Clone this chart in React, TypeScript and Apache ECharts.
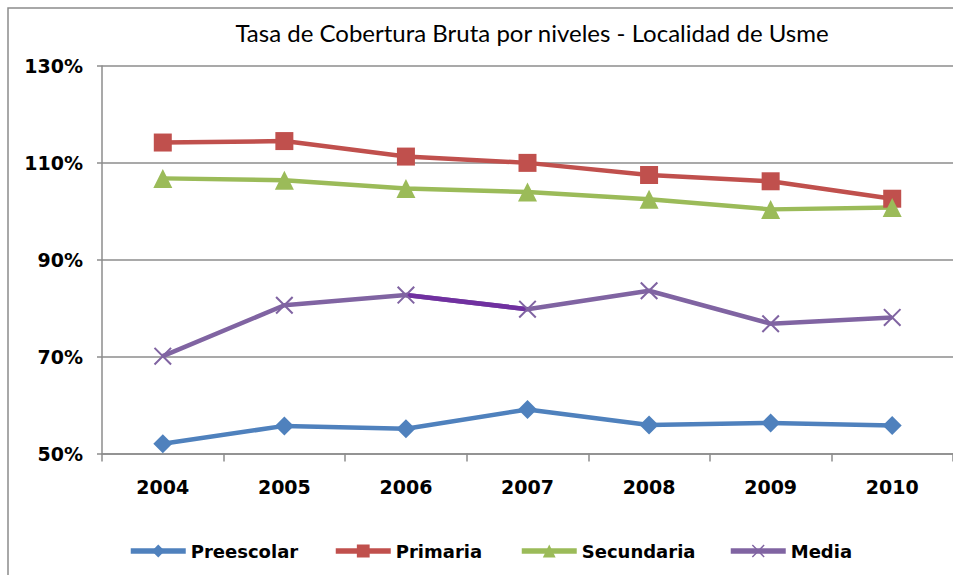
import React, { useEffect, useRef } from "react";
import * as echarts from "echarts";

const years = ["2004", "2005", "2006", "2007", "2008", "2009", "2010"];
const preescolar = [52.0, 55.7, 55.1, 59.1, 55.9, 56.3, 55.8];
const primaria = [114.2, 114.5, 111.3, 110.0, 107.5, 106.2, 102.6];
const secundaria = [106.8, 106.4, 104.7, 104.0, 102.5, 100.4, 100.8];
const media = [70.1, 80.6, 82.7, 79.8, 83.6, 76.8, 78.1];
const yTicks = { min: 50, max: 130, interval: 20 };
const titleText = "Tasa de Cobertura Bruta por niveles - Localidad de Usme";

const crossPath =
  "path://M0,0.8 L0.8,0 L10,9.2 L9.2,10 Z M9.2,0 L10,0.8 L0.8,10 L0,9.2 Z";

export default function App() {
  const ref = useRef<HTMLDivElement>(null);
  useEffect(() => {
    if (!ref.current) return;
    const chart = echarts.init(ref.current, null, { renderer: "svg" });
    const labelFont = {
      fontFamily: "DejaVu Sans",
      fontWeight: "bold" as const,
      fontSize: 19,
      color: "#000",
    };
    const mediaDark = media.map((v, i) => (i === 2 || i === 3 ? v : null));
    const legendBase = {
      top: 542,
      padding: 0,
      itemWidth: 55,
      itemHeight: 16,
      lineStyle: { width: 5.5 },
      textStyle: { ...labelFont, fontSize: 18 },
    };
    chart.setOption({
      animation: false,
      backgroundColor: "#fff",
      title: {
        text: titleText,
        left: 527,
        textAlign: "center",
        top: 15,
        textStyle: {
          fontFamily: "Lato",
          fontWeight: "normal",
          fontSize: 24,
          color: "#000",
        },
      },
      graphic: [
        {
          type: "rect",
          shape: { x: 8, y: 8, width: 1000, height: 700 },
          style: { fill: "none", stroke: "#8c8c8c", lineWidth: 1.5 },
          silent: true,
        },
      ],
      legend: [
        { ...legendBase, left: 128, data: ["Preescolar"] },
        { ...legendBase, left: 333, data: ["Primaria"] },
        { ...legendBase, left: 519, data: ["Secundaria"] },
        { ...legendBase, left: 728, data: ["Media"] },
      ],
      grid: { left: 102, top: 66, right: -2, bottom: 121.5 },
      xAxis: {
        type: "category",
        data: years,
        boundaryGap: true,
        axisLine: { lineStyle: { color: "#8c8c8c", width: 1.5 } },
        axisTick: { show: true, length: 8, lineStyle: { color: "#8c8c8c", width: 1.5 } },
        axisLabel: { ...labelFont, margin: 24 },
      },
      yAxis: {
        type: "value",
        min: yTicks.min,
        max: yTicks.max,
        interval: yTicks.interval,
        axisLine: { show: true, lineStyle: { color: "#8c8c8c", width: 1.5 } },
        axisTick: { show: true, length: 5, lineStyle: { color: "#8c8c8c", width: 1.5 } },
        splitLine: { lineStyle: { color: "#8c8c8c", width: 1.5 } },
        axisLabel: { ...labelFont, margin: 19, formatter: "{value}%" },
      },
      series: [
        {
          name: "Preescolar",
          type: "line",
          data: preescolar,
          symbol: "diamond",
          symbolSize: 19,
          lineStyle: { color: "#4F81BD", width: 4.5 },
          itemStyle: { color: "#4F81BD" },
        },
        {
          name: "Primaria",
          type: "line",
          data: primaria,
          symbol: "rect",
          symbolSize: 18,
          lineStyle: { color: "#C0504D", width: 4.5 },
          itemStyle: { color: "#C0504D" },
        },
        {
          name: "Secundaria",
          type: "line",
          data: secundaria,
          symbol: "triangle",
          symbolSize: 19,
          lineStyle: { color: "#9BBB59", width: 4.5 },
          itemStyle: { color: "#9BBB59" },
        },
        {
          name: "Media",
          type: "line",
          data: media,
          symbol: crossPath,
          symbolSize: 18,
          lineStyle: { color: "#8064A2", width: 4.5 },
          itemStyle: { color: "#8064A2" },
        },
        {
          name: "Media-dark",
          type: "line",
          data: mediaDark,
          showSymbol: false,
          symbol: "none",
          lineStyle: { color: "#7030A0", width: 4.5 },
          itemStyle: { color: "#7030A0" },
        },
      ],
    });
    return () => chart.dispose();
  }, []);
  return (
    <div
      ref={ref}
      style={{ position: "fixed", left: 0, top: 0, width: 953, height: 575 }}
    />
  );
}
